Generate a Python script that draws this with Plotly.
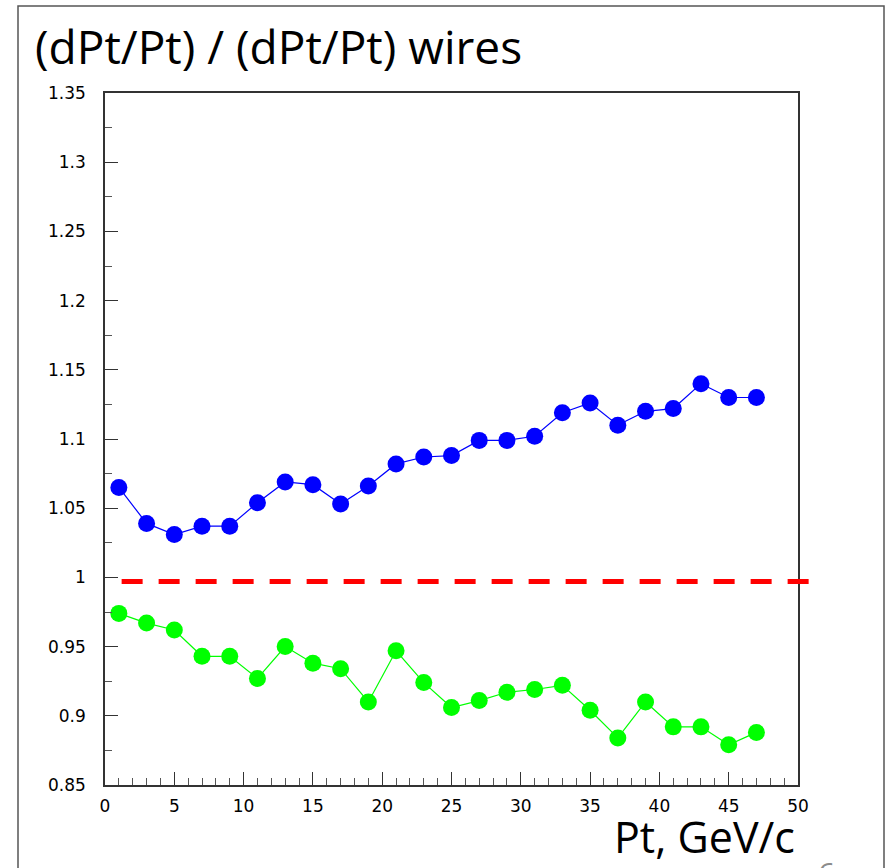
import plotly.graph_objects as go

# ---- data ----
pt = [1, 3, 5, 7, 9, 11, 13, 15, 17, 19, 21, 23, 25, 27, 29, 31, 33, 35, 37, 39, 41, 43, 45, 47]
blue_ratio = [1.065, 1.039, 1.031, 1.037, 1.037, 1.054, 1.069, 1.067, 1.053, 1.066,
              1.082, 1.087, 1.088, 1.099, 1.099, 1.102, 1.119, 1.126, 1.110, 1.120,
              1.122, 1.140, 1.130, 1.130]
green_ratio = [0.974, 0.967, 0.962, 0.943, 0.943, 0.927, 0.950, 0.938, 0.934, 0.910,
               0.947, 0.924, 0.906, 0.911, 0.917, 0.919, 0.922, 0.904, 0.884, 0.910,
               0.892, 0.892, 0.879, 0.888]
ref_x = [1.2, 51.0]
ref_y = 0.997

x_range = [0, 50]
y_range = [0.85, 1.35]
x_tickvals = [0, 5, 10, 15, 20, 25, 30, 35, 40, 45, 50]
x_ticktext = ["0", "5", "10", "15", "20", "25", "30", "35", "40", "45", "50"]
y_tickvals = [0.85, 0.9, 0.95, 1.0, 1.05, 1.1, 1.15, 1.2, 1.25, 1.3, 1.35]
y_ticktext = ["0.85", "0.9", "0.95", "1", "1.05", "1.1", "1.15", "1.2", "1.25", "1.3", "1.35"]

title_text = "(dPt/Pt) / (dPt/Pt) wires"
xlabel_text = "Pt, GeV/c"
page_text = "6"

# ---- layout geometry (pixels) ----
W, H = 889, 868
L, R, T, B = 105, 798, 93, 785
pw, ph = R - L, B - T


def px_x(p):
    return (p - L) / pw


def px_y(p):
    return (B - p) / ph


fig = go.Figure()

fig.add_trace(go.Scatter(
    x=pt, y=blue_ratio, mode="lines+markers",
    line=dict(color="#0000ff", width=1.2),
    marker=dict(color="#0000ff", size=17),
    cliponaxis=False, showlegend=False))
fig.add_trace(go.Scatter(
    x=pt, y=green_ratio, mode="lines+markers",
    line=dict(color="#00ff00", width=1.2),
    marker=dict(color="#00ff00", size=17),
    cliponaxis=False, showlegend=False))


# dashed reference line (extends past the frame, so drawn in paper units via the axis scales)
def data_to_paper_x(v):
    return (v - x_range[0]) / (x_range[1] - x_range[0])


def data_to_paper_y(v):
    return (v - y_range[0]) / (y_range[1] - y_range[0])


fig.add_shape(type="line", xref="paper", yref="paper",
              x0=data_to_paper_x(ref_x[0]), x1=data_to_paper_x(ref_x[1]),
              y0=data_to_paper_y(ref_y), y1=data_to_paper_y(ref_y),
              line=dict(color="#ff0000", width=5, dash="21px,16px"))

# slide frame
fl, fr, ft, fb = px_x(18), px_x(884), px_y(6), px_y(900)
fig.add_shape(type="path", xref="paper", yref="paper",
              path=f"M {fl},{fb} L {fl},{ft} L {fr},{ft} L {fr},{fb}",
              line=dict(color="#555555", width=1.5))

tickfont = dict(family="DejaVu Sans", size=17, color="#000000")

fig.update_xaxes(
    range=x_range, tickmode="array", tickvals=x_tickvals, ticktext=x_ticktext,
    ticks="inside", ticklen=13, tickwidth=1.2, tickcolor="#333333",
    minor=dict(tickmode="linear", tick0=0, dtick=1, ticks="inside", ticklen=7,
               tickwidth=1, tickcolor="#555555", showgrid=False),
    showline=True, linecolor="#333333", linewidth=1.5, mirror=True,
    showgrid=False, zeroline=False, tickfont=tickfont, ticklabelstandoff=5)
fig.update_yaxes(
    range=y_range, tickmode="array", tickvals=y_tickvals, ticktext=y_ticktext,
    ticks="inside", ticklen=13, tickwidth=1.2, tickcolor="#333333",
    minor=dict(tickmode="linear", tick0=0.85, dtick=0.025, ticks="inside", ticklen=7,
               tickwidth=1, tickcolor="#555555", showgrid=False),
    showline=True, linecolor="#333333", linewidth=1.5, mirror=True,
    showgrid=False, zeroline=False, tickfont=tickfont, ticklabelstandoff=14)

fig.add_annotation(text=title_text, xref="paper", yref="paper",
                   x=px_x(33), y=px_y(46), xanchor="left", yanchor="middle",
                   showarrow=False, font=dict(family="Open Sans", size=46, color="#000000"))
fig.add_annotation(text=xlabel_text, xref="paper", yref="paper",
                   x=px_x(797), y=px_y(836), xanchor="right", yanchor="middle",
                   showarrow=False, font=dict(family="Open Sans", size=43, color="#000000"))
fig.add_annotation(text=page_text, xref="paper", yref="paper",
                   x=px_x(816), y=px_y(850), xanchor="left", yanchor="top",
                   showarrow=False, font=dict(family="Open Sans", size=30, color="#8c8c8c"))

fig.update_layout(
    width=W, height=H,
    margin=dict(l=L, r=W - R, t=T, b=H - B, pad=0),
    paper_bgcolor="#ffffff", plot_bgcolor="#ffffff",
    showlegend=False)

fig.write_html("out.html")
